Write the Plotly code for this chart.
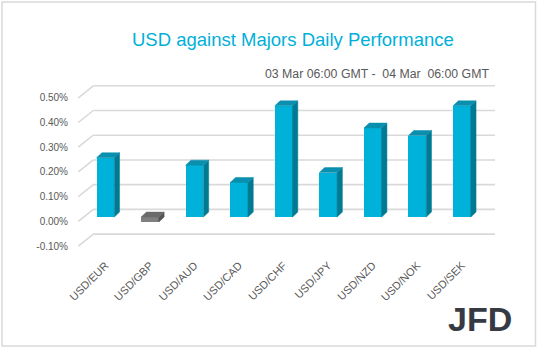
import plotly.graph_objects as go

# ---- data ----
categories = ["USD/EUR", "USD/GBP", "USD/AUD", "USD/CAD", "USD/CHF",
              "USD/JPY", "USD/NZD", "USD/NOK", "USD/SEK"]
values = [0.24, -0.02, 0.21, 0.14, 0.45, 0.18, 0.36, 0.33, 0.45]  # percent
y_ticks = [-0.10, 0.00, 0.10, 0.20, 0.30, 0.40, 0.50]
title_text = "USD against Majors Daily Performance"
subtitle_text = "03 Mar 06:00 GMT -\u00a0 04 Mar\u00a0 06:00 GMT"

# ---- geometry / style ----
W, H = 538, 351
ML, MR, MT, MB = 72, 36, 78, 95
XR = [-0.75, 8.9]
YR = [-0.14, 0.58]
pw, ph = W - ML - MR, H - MT - MB
pxu = pw / (XR[1] - XR[0])      # px per category unit
pyu = ph / (YR[1] - YR[0])      # px per percent unit

def px2u(px):  # pixel count -> x units
    return px / pxu

def py2v(py):  # pixel count -> y units
    return py / pyu

def paper_x(px):
    return (px - ML) / pw

def paper_y(py):
    return (H - MB - py) / ph

bar_w = px2u(17.7)
side_dx = px2u(5.3)
side_dy = py2v(5.0)
bar_off = py2v(4.3)
wall_dy = py2v(12)
wall_x_front = px2u(78.3 - ML) + XR[0]
wall_x_back = px2u(93.3 - ML) + XR[0]
wall_x_right = px2u(495 - ML) + XR[0]

pos_col = dict(front="#00B2DA", side="#007A93", top="#0A8FAE")
neg_col = dict(front="#7F7F7F", side="#555555", top="#6A6A6A")
grid_col = "#D9D9D9"
text_col = "#595959"

fig = go.Figure()

# gridlines (side wall diagonal + back wall), drawn below all traces
shapes = []
for v in y_ticks:
    shapes.append(dict(type="line", xref="x", yref="y", layer="below",
                       x0=wall_x_front, y0=v, x1=wall_x_back, y1=v + wall_dy,
                       line=dict(color=grid_col, width=1.6)))
    shapes.append(dict(type="line", xref="x", yref="y", layer="below",
                       x0=wall_x_back, y0=v + wall_dy, x1=wall_x_right, y1=v + wall_dy,
                       line=dict(color=grid_col, width=1.6)))

idx = list(range(len(categories)))
front_colors = [pos_col["front"] if v >= 0 else neg_col["front"] for v in values]

# 3D side & top faces
for i, v in enumerate(values):
    cols = pos_col if v >= 0 else neg_col
    xl, xr = i - bar_w / 2, i + bar_w / 2
    b, t = bar_off, bar_off + v
    top = max(b, t)
    fig.add_trace(go.Scatter(
        x=[xr, xr + side_dx, xr + side_dx, xr, xr],
        y=[b, b + side_dy, t + side_dy, t, b],
        fill="toself", fillcolor=cols["side"], mode="lines",
        line=dict(color=cols["side"], width=0.5),
        hoverinfo="skip", showlegend=False))
    fig.add_trace(go.Scatter(
        x=[xl, xl + side_dx, xr + side_dx, xr, xl],
        y=[top, top + side_dy, top + side_dy, top, top],
        fill="toself", fillcolor=cols["top"], mode="lines",
        line=dict(color=cols["top"], width=0.5),
        hoverinfo="skip", showlegend=False))

# front faces
fig.add_trace(go.Bar(x=idx, y=values, base=[bar_off] * len(values),
                     width=bar_w, marker=dict(color=front_colors, line=dict(width=0)),
                     showlegend=False))

# outer border
shapes.append(dict(type="rect", xref="paper", yref="paper",
                   x0=paper_x(2), x1=paper_x(535.5), y0=paper_y(2), y1=paper_y(346),
                   line=dict(color="#D9D9D9", width=1.5), layer="below"))

fig.update_layout(
    width=W, height=H,
    margin=dict(l=ML, r=MR, t=MT, b=MB),
    paper_bgcolor="white", plot_bgcolor="white",
    font=dict(family="Liberation Sans, Arial, sans-serif", color=text_col, size=10),
    xaxis=dict(range=XR, tickvals=idx, ticktext=categories, tickangle=-45,
               showgrid=False, zeroline=False, showline=False, ticks="",
               tickfont=dict(size=11, color=text_col)),
    yaxis=dict(range=YR, tickvals=y_ticks,
               ticktext=[f"{v:.2f}%" for v in y_ticks],
               showgrid=False, zeroline=False, showline=False, ticks="",
               ticklabelstandoff=3,
               tickfont=dict(size=10, color=text_col)),
    bargap=0,
    annotations=[
        dict(text=title_text, xref="paper", yref="paper",
             x=paper_x(293), y=paper_y(40), xanchor="center", yanchor="middle",
             showarrow=False, font=dict(size=18.5, color="#00B0D8")),
        dict(text=subtitle_text, xref="paper", yref="paper",
             x=paper_x(491), y=paper_y(74), xanchor="right", yanchor="middle",
             showarrow=False, font=dict(size=12.3, color=text_col)),
        dict(text="<b>JFD</b>", xref="paper", yref="paper",
             x=paper_x(480), y=paper_y(319), xanchor="center", yanchor="middle",
             showarrow=False, font=dict(size=34, color="#363B43")),
    ],
    shapes=shapes,
)

fig.write_html("out.html")
